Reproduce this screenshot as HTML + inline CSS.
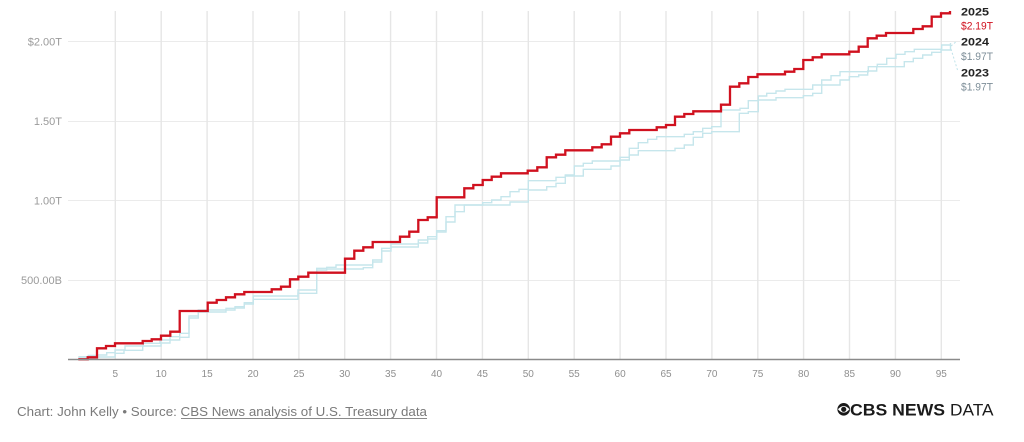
<!DOCTYPE html>
<html>
<head>
<meta charset="utf-8">
<style>
  html, body { margin:0; padding:0; background:#ffffff; }
  body { width:1024px; height:442px; overflow:hidden; }
  svg { display:block; }
  text { font-family: "Liberation Sans", sans-serif; }
</style>
</head>
<body>
<svg width="1024" height="442" viewBox="0 0 1024 442" xmlns="http://www.w3.org/2000/svg">
  <rect x="0" y="0" width="1024" height="442" fill="#ffffff"/>

  <!-- horizontal gridlines -->
  <g stroke="#ebebeb" stroke-width="1">
    <line x1="68" y1="41.5" x2="960" y2="41.5"/>
    <line x1="68" y1="121.5" x2="960" y2="121.5"/>
    <line x1="68" y1="200.5" x2="960" y2="200.5"/>
    <line x1="68" y1="280.5" x2="960" y2="280.5"/>
  </g>

  <!-- vertical gridlines -->
  <g stroke="#e6e6e6" stroke-width="1.4">
    <line x1="115.3" y1="11" x2="115.3" y2="359"/>
    <line x1="161.2" y1="11" x2="161.2" y2="359"/>
    <line x1="207.1" y1="11" x2="207.1" y2="359"/>
    <line x1="253.0" y1="11" x2="253.0" y2="359"/>
    <line x1="298.9" y1="11" x2="298.9" y2="359"/>
    <line x1="344.7" y1="11" x2="344.7" y2="359"/>
    <line x1="390.6" y1="11" x2="390.6" y2="359"/>
    <line x1="436.5" y1="11" x2="436.5" y2="359"/>
    <line x1="482.4" y1="11" x2="482.4" y2="359"/>
    <line x1="528.3" y1="11" x2="528.3" y2="359"/>
    <line x1="574.2" y1="11" x2="574.2" y2="359"/>
    <line x1="620.1" y1="11" x2="620.1" y2="359"/>
    <line x1="666.0" y1="11" x2="666.0" y2="359"/>
    <line x1="711.9" y1="11" x2="711.9" y2="359"/>
    <line x1="757.8" y1="11" x2="757.8" y2="359"/>
    <line x1="803.6" y1="11" x2="803.6" y2="359"/>
    <line x1="849.5" y1="11" x2="849.5" y2="359"/>
    <line x1="895.4" y1="11" x2="895.4" y2="359"/>
    <line x1="941.3" y1="11" x2="941.3" y2="359"/>
  </g>

  <!-- y labels -->
  <g font-size="11" fill="#9a9a9a" text-anchor="end">
    <text x="62" y="45.5">$2.00T</text>
    <text x="62" y="125">1.50T</text>
    <text x="62" y="204.5">1.00T</text>
    <text x="62" y="284">500.00B</text>
  </g>

  <!-- blue series (2024 / 2023) -->
  <g fill="none" stroke="#c6e6ec" stroke-width="1.4" stroke-linejoin="miter">
    <path d="M78.3,356.7 H88.3 V355.5 H96.7 V355 H106.7 V352.7 H115 V350 H125 V346 H143.3 V343.3 H160 V340 H170 V336.7 H179.7 V333.3 H189 V316 H198.3 V310 H226 V308.3 H235 V306.7 H244.3 V302.7 H253.3 V296 H298 V290 H316.7 V268.3 H326.7 V267.3 H336 V265 H372.7 V260 H381.7 V248.3 H391 V244 H418.3 V240 H427.7 V236.7 H436.7 V230.7 H446 V216.7 H455 V205 H482.7 V202.7 H491.7 V200 H501 V196.7 H510 V191.7 H519 V189.3 H528.3 V180.7 H556 V177.3 H565.3 V175 H574.3 V166 H583.3 V163.3 H592.3 V161 H620 V157.3 H629.3 V148.3 H638.3 V142.7 H647.7 V139.3 H656.7 V136.7 H684.3 V134.3 H693.3 V131.7 H702.7 V128.3 H711.7 V126.7 H721 V110 H740 V108.3 H748.3 V100.7 H758.3 V96 H766.7 V93.3 H776 V91 H785 V89.3 H812.7 V85 H821.7 V80 H831 V75.7 H840 V71.7 H868.3 V66.7 H877.3 V64.3 H886.7 V58.3 H896 V54.3 H905 V51.7 H914.3 V49.3 H941.7 V45 H950.5 V43"/>
    <path d="M78.3,358 H97 V357 H115 V353.3 H124 V350.3 H142.7 V346 H161 V343 H170 V340 H179.7 V337.3 H189 V318 H198.3 V312 H226 V310 H235 V308 H244.3 V304 H253.3 V299.3 H298 V293.3 H316.7 V270 H326.7 V269 H363.3 V267.7 H372.7 V262 H381.7 V251 H391 V247 H418.3 V243 H427.7 V239 H436.7 V232 H446 V222 H455 V211.7 H464.3 V205 H510 V202 H528.3 V190 H546.7 V186.7 H556 V183.3 H565.3 V176 H583.3 V169.3 H611 V166 H620 V160 H629.3 V155 H638.3 V150.7 H675 V148.3 H684.3 V145 H693.3 V137.3 H702.7 V133.3 H711.7 V131.7 H739.3 V113.3 H748.3 V111.7 H758.3 V100 H776 V97.7 H803.3 V95.7 H812.7 V93.3 H821.7 V85 H840 V80 H849.3 V76.7 H858.7 V75 H867.7 V71 H876.7 V66.7 H904.3 V61.7 H913.3 V58.3 H922.7 V55 H931.7 V52.3 H941 V50 H950.5 V45"/>
  </g>

  <!-- leader lines -->
  <g stroke="#bfe2e9" stroke-width="1" stroke-dasharray="2,2" fill="none">
    <line x1="951" y1="46" x2="957" y2="41"/>
    <line x1="951" y1="49" x2="957.5" y2="70"/>
  </g>

  <!-- red series 2025 -->
  <path fill="none" stroke="#d0111f" stroke-width="2.3" stroke-linejoin="miter"
    d="M78.3,359.3 H87.7 V357.3 H97 V348.3 H106 V346 H115 V343.3 H142.7 V341 H151.7 V339.3 H161 V335.7 H170.3 V331.7 H179.7 V311 H207.7 V302.7 H216.7 V300 H226 V297.3 H235 V294.3 H244.3 V292 H271.7 V289.3 H281 V286.7 H290 V279.3 H298.3 V276.7 H308.3 V272.7 H345 V258.7 H354.3 V250.7 H363.3 V247.3 H372.7 V242 H400 V236.7 H409.3 V231.7 H418.3 V220 H427.7 V217.3 H436.7 V197.3 H464.3 V188.3 H473.3 V185 H482.7 V180 H491.7 V176.7 H501 V173.3 H527.7 V170.7 H537.3 V167.3 H546.7 V157.3 H556 V154.7 H565.3 V150.3 H592.3 V147.3 H601.7 V144.3 H611 V136.7 H620 V133.3 H629.3 V130 H656.7 V127.3 H666 V125 H675 V116.7 H684.3 V114 H693.3 V111.3 H721 V104.7 H730 V86.7 H739.3 V83.3 H748.3 V77 H757.5 V74.3 H785 V71.7 H794.3 V69 H803.3 V60 H812.7 V57.3 H821.7 V54.3 H849.3 V51.7 H858.7 V46.7 H867.7 V38.3 H876.7 V35.7 H886 V33 H913.3 V29 H922.7 V26.3 H931.7 V16.7 H941 V13.3 H950 V11"/>

  <!-- x axis -->
  <line x1="68" y1="359.5" x2="960" y2="359.5" stroke="#8a8a8a" stroke-width="1.5"/>

  <!-- x labels -->
  <g font-size="10" fill="#8f8f8f" text-anchor="middle">
    <text x="115.3" y="377">5</text>
    <text x="161.2" y="377">10</text>
    <text x="207.1" y="377">15</text>
    <text x="253.0" y="377">20</text>
    <text x="298.9" y="377">25</text>
    <text x="344.7" y="377">30</text>
    <text x="390.6" y="377">35</text>
    <text x="436.5" y="377">40</text>
    <text x="482.4" y="377">45</text>
    <text x="528.3" y="377">50</text>
    <text x="574.2" y="377">55</text>
    <text x="620.1" y="377">60</text>
    <text x="666.0" y="377">65</text>
    <text x="711.9" y="377">70</text>
    <text x="757.8" y="377">75</text>
    <text x="803.6" y="377">80</text>
    <text x="849.5" y="377">85</text>
    <text x="895.4" y="377">90</text>
    <text x="941.3" y="377">95</text>
  </g>

  <!-- legend -->
  <g font-size="11">
    <text x="961" y="15.3" font-weight="bold" fill="#222" textLength="28" lengthAdjust="spacingAndGlyphs">2025</text>
    <text x="961" y="29.3" fill="#d0111f" textLength="32" lengthAdjust="spacingAndGlyphs">$2.19T</text>
    <text x="961" y="45.7" font-weight="bold" fill="#222" textLength="28" lengthAdjust="spacingAndGlyphs">2024</text>
    <text x="961" y="60" fill="#7d8e98" textLength="32" lengthAdjust="spacingAndGlyphs">$1.97T</text>
    <text x="961" y="76.7" font-weight="bold" fill="#222" textLength="28" lengthAdjust="spacingAndGlyphs">2023</text>
    <text x="961" y="90.7" fill="#7d8e98" textLength="32" lengthAdjust="spacingAndGlyphs">$1.97T</text>
  </g>

  <!-- footer -->
  <text x="17" y="416" font-size="13" fill="#7a7a7a" textLength="410" lengthAdjust="spacingAndGlyphs">Chart: John Kelly • Source: CBS News analysis of U.S. Treasury data</text>
  <line x1="181" y1="418.5" x2="427" y2="418.5" stroke="#8a8a8a" stroke-width="0.9"/>

  <!-- CBS logo -->
  <g>
    <circle cx="843.7" cy="409.3" r="6.3" fill="#1a1a1a"/>
    <path d="M837.9,409.3 Q843.7,402.6 849.5,409.3 Q843.7,416 837.9,409.3 Z" fill="#ffffff"/>
    <circle cx="843.7" cy="409.3" r="2.6" fill="#1a1a1a"/>
    <text x="850" y="415.5" font-size="16.5" font-weight="bold" fill="#1a1a1a" textLength="95" lengthAdjust="spacingAndGlyphs">CBS NEWS</text>
    <text x="950" y="415.5" font-size="16.5" fill="#1a1a1a" textLength="43.5" lengthAdjust="spacingAndGlyphs">DATA</text>
  </g>
</svg>
</body>
</html>
